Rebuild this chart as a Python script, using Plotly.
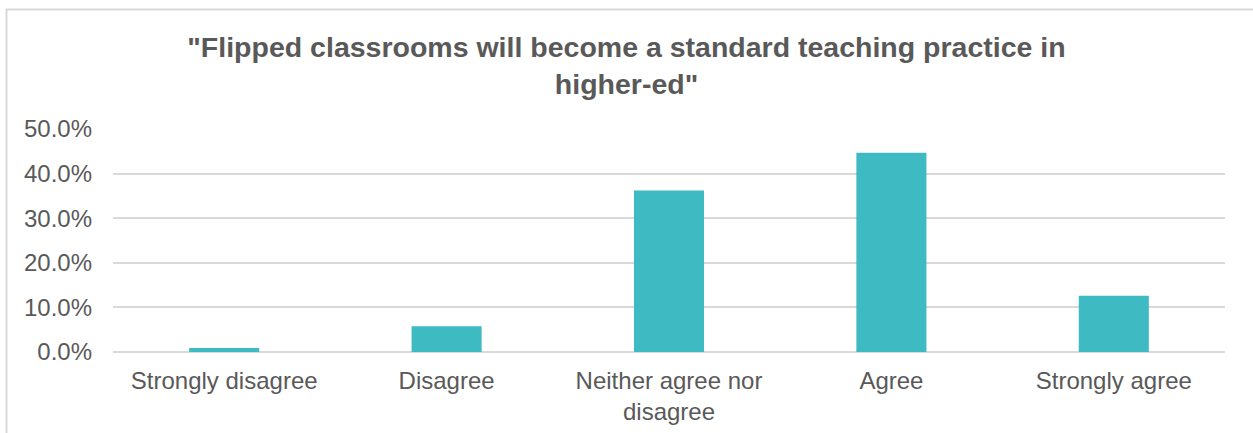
import plotly.graph_objects as go

# Survey responses to the statement
categories = ["Strongly disagree", "Disagree", "Neither agree nor disagree", "Agree", "Strongly agree"]
tick_labels = ["Strongly disagree", "Disagree", "Neither agree nor<br>disagree", "Agree", "Strongly agree"]
shares = [0.009, 0.058, 0.362, 0.447, 0.126]
y_ticks = [0.0, 0.1, 0.2, 0.3, 0.4, 0.5]

TEXT = "#595959"
GRID = "#D9D9D9"
BAR = "#3DBAC2"
FONT = "Liberation Sans, Arial, sans-serif"

W, H = 1253, 433
L, R, T, B = 113, 28, 129, 81

fig = go.Figure(
    go.Bar(
        x=categories,
        y=shares,
        marker=dict(color=BAR, line=dict(width=0)),
        hoverinfo="x+y",
    )
)

# outer chart frame (left and top edges visible)
pw, ph = W - L - R, H - T - B
fx0 = (6.5 - L) / pw
fy1 = (H - B - 9.5) / ph
fig.add_shape(
    type="rect", xref="paper", yref="paper",
    x0=fx0, x1=1.2, y0=-1.0, y1=fy1,
    line=dict(color=GRID, width=2), fillcolor="rgba(0,0,0,0)", layer="below",
)

fig.update_layout(
    width=W, height=H,
    margin=dict(l=L, r=R, t=T, b=B, autoexpand=False),
    paper_bgcolor="white", plot_bgcolor="white",
    font=dict(family=FONT, color=TEXT, size=24),
    title=dict(
        text='<b>"Flipped classrooms will become a standard teaching practice in<br>higher-ed"</b>',
        x=0.5, xref="container", xanchor="center",
        y=1 - 57 / H, yref="container", yanchor="middle",
        font=dict(family=FONT, size=28.5, color=TEXT),
    ),
    bargap=0.685,
    showlegend=False,
)

fig.update_xaxes(
    tickmode="array", tickvals=categories, ticktext=tick_labels,
    showgrid=False, showline=False, ticks="",
    ticklabelstandoff=12, automargin=False,
    tickfont=dict(family=FONT, size=24, color=TEXT),
)
fig.update_yaxes(
    range=[0, 0.5], tickmode="array", tickvals=y_ticks,
    tickformat=".1%",
    showgrid=True, gridcolor=GRID, gridwidth=2,
    zeroline=True, zerolinecolor=GRID, zerolinewidth=2,
    showline=False, ticks="",
    ticklabelstandoff=20, automargin=False,
    tickfont=dict(family=FONT, size=24, color=TEXT),
)

fig.write_html("out.html")
